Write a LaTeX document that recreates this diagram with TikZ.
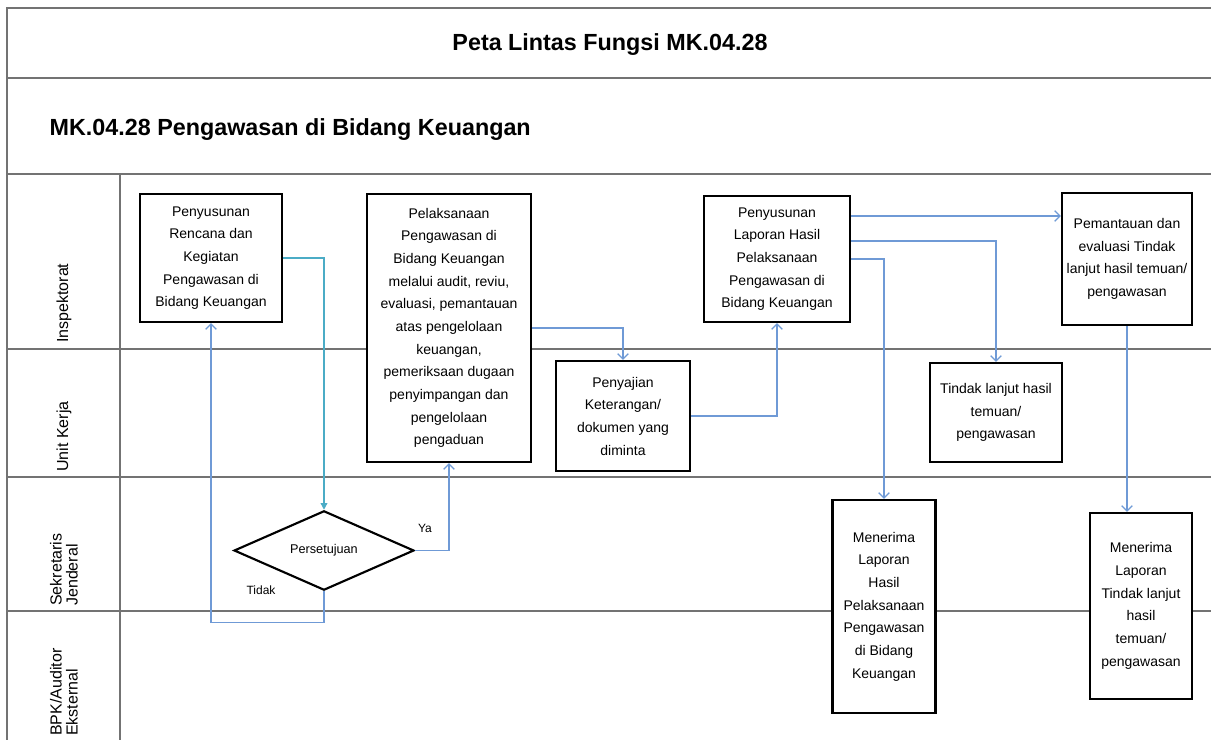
\documentclass[tikz,border=0pt]{standalone}
\usepackage{fontspec}
\setmainfont{Liberation Sans}
\usepackage{xcolor}
\usetikzlibrary{arrows.meta,positioning,shapes.geometric,calc}
\definecolor{flowblue}{HTML}{6F9AD6}
\definecolor{flowteal}{HTML}{4BACC6}
\tikzset{
  laneline/.style={draw=black!55, line width=1.2pt},
  box/.style={draw, line width=1.6pt, fill=white, align=center,
              font=\fontsize{10.5}{17}\selectfont, inner sep=0pt},
  decision/.style={diamond, draw, line width=1.6pt, fill=white,
              inner sep=0pt, font=\fontsize{9.5}{11}\selectfont},
  head/.style={font=\fontsize{17.5}{20}\selectfont\bfseries},
  lanelbl/.style={rotate=90, anchor=west, align=left, inner sep=0pt,
              font=\fontsize{12}{12}\selectfont},
  flow/.style={draw=flowblue, line width=1pt,
               -{Straight Barb[length=4pt,width=8pt]}},
  flowtl/.style={draw=flowteal, line width=1pt,
               -{Triangle[length=5pt,width=5pt]}},
  lbl/.style={font=\fontsize{9}{10}\selectfont},
}
\begin{document}
\begin{tikzpicture}[x=0.75pt, y=-0.75pt]
  \useasboundingbox[fill=white] (0,0) rectangle (1211,740);
  % frame and lanes
  \draw[laneline] (1211,8) -- (7,8) -- (7,740);
  \foreach \y in {78,174,349,477,611}
    \draw[laneline] (7,\y) -- (1211,\y);
  \draw[laneline] (120,174) -- (120,740);
  % headings
  \node[head] (title) at (610,45) {Peta Lintas Fungsi MK.04.28};
  \node[head, anchor=west] (subtitle) at (45,130)
    {MK.04.28 Pengawasan di Bidang Keuangan};
  % lane names
  \node[lanelbl] (ln1) at (64,343) {Inspektorat};
  \node[lanelbl] (ln2) at (64,472) {Unit Kerja};
  \node[lanelbl] (ln3) at (64,606) {Sekretaris\\Jenderal};
  \node[lanelbl] (ln4) at (64,736) {BPK/Auditor\\Eksternal};
  % Inspektorat
  \node[box, minimum width=106.5pt, minimum height=96pt] (rencana)
    at (211,258) {Penyusunan\\Rencana dan\\Kegiatan\\Pengawasan di\\
    Bidang Keuangan};
  \node[box, minimum width=123pt, minimum height=201pt] (laks)
    at (449,328) {Pelaksanaan\\Pengawasan di\\Bidang Keuangan\\
    melalui audit, reviu,\\evaluasi, pemantauan\\atas pengelolaan\\
    keuangan,\\pemeriksaan dugaan\\penyimpangan dan\\pengelolaan\\
    pengaduan};
  \node[box, minimum width=109.5pt, minimum height=94.5pt] (lhp)
    at (777,259) {Penyusunan\\Laporan Hasil\\Pelaksanaan\\Pengawasan di\\
    Bidang Keuangan};
  \node[box, minimum width=97.5pt, minimum height=99pt] (pantau)
    at (1127,259) {Pemantauan dan\\evaluasi Tindak\\lanjut hasil temuan/\\
    pengawasan};
  % Unit Kerja
  \node[box, minimum width=100.5pt, minimum height=82.5pt] (saji)
    at (623,416) {Penyajian\\Keterangan/\\dokumen yang\\diminta};
  \node[box, minimum width=99pt, minimum height=74.25pt] (tl)
    at (996,412.5) {Tindak lanjut hasil\\temuan/\\pengawasan};
  % Sekretaris Jenderal
  \node[decision, minimum width=135pt, minimum height=56.25pt] (setuju)
    at (324,550.5) {Persetujuan};
  % BPK / Auditor Eksternal
  \node[box, minimum width=77.25pt, minimum height=159.75pt] (terima1)
    at (884,606.5) {Menerima\\Laporan\\Hasil\\Pelaksanaan\\Pengawasan\\
    di Bidang\\Keuangan};
  \node[box, minimum width=76.5pt, minimum height=139.5pt] (terima2)
    at (1141,606) {Menerima\\Laporan\\Tindak lanjut\\hasil\\temuan/\\
    pengawasan};
  % flows
  \draw[flowtl] (rencana.east) -| (setuju.north);
  \draw[flow] (setuju.south) -- ++(0,31) -| (rencana.south);
  \node[lbl] (tidak) at (261,590) {Tidak};
  \draw[flow] (setuju.east) -| (laks.south);
  \node[lbl] (ya) at (425,528) {Ya};
  \draw[flow] (laks.east) -| (saji.north);
  \draw[flow] (saji.east) -| (lhp.south);
  \draw[flow] ([yshift=32.25pt]lhp.east) coordinate (lp1)
    -- (lp1 -| pantau.west);
  \draw[flow] ([yshift=13.5pt]lhp.east) -| (tl.north);
  \draw[flow] (lhp.east) -| (terima1.north);
  \draw[flow] (pantau.south) -- (pantau.south |- terima2.north);
\end{tikzpicture}
\end{document}
